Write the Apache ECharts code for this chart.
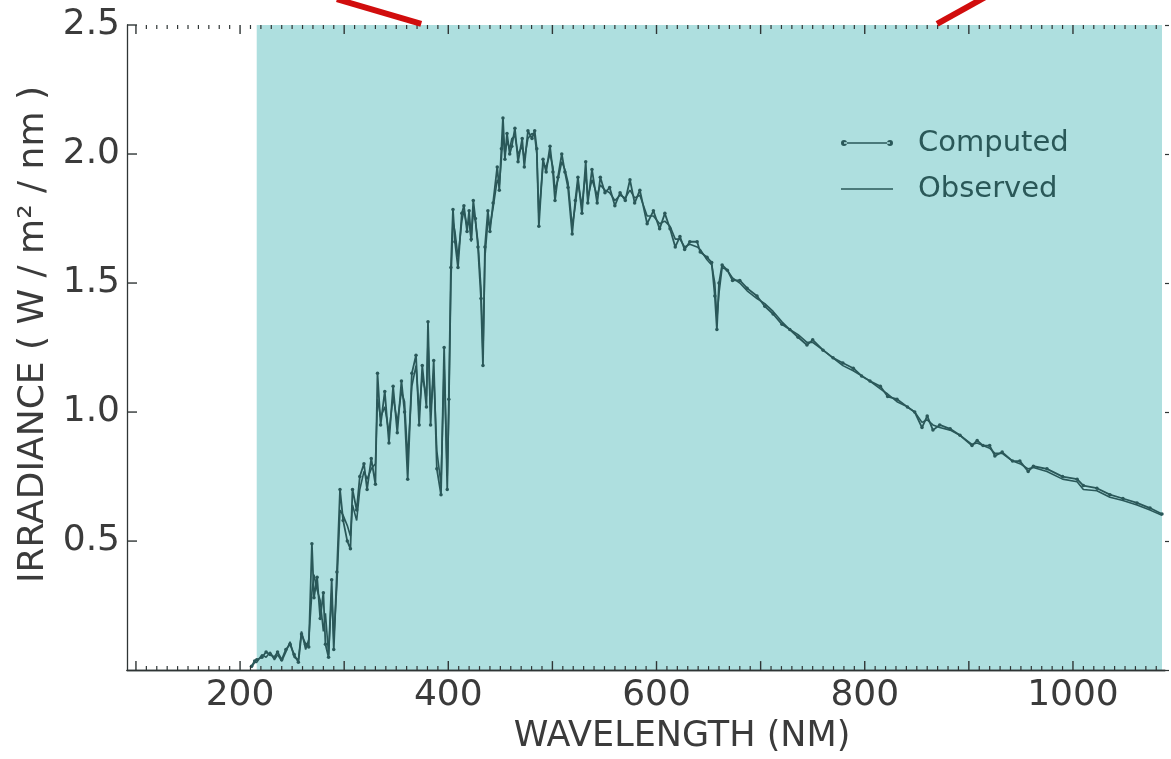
<!DOCTYPE html>
<html>
<head>
<meta charset="utf-8">
<script src="https://cdn.jsdelivr.net/npm/echarts@6/dist/echarts.min.js"></script>
<style>
  html, body { margin: 0; padding: 0; background: #ffffff; }
  #chart { width: 1171px; height: 759px; }
</style>
</head>
<body>
<div id="chart"></div>
<script>
// Solar spectral irradiance, wavelength in nm, irradiance in W / m^2 / nm
const wavelength = [
  211, 214, 216, 221, 225, 229, 233, 236, 240, 244, 248, 252, 256, 259, 263, 266, 269, 271, 274, 277,
  280, 282, 285, 288, 290, 293, 296, 299, 303, 306, 308, 312, 315, 319, 322, 326, 330, 332, 335, 339,
  343, 347, 351, 355, 358, 361, 365, 369, 372, 375, 379, 380.5, 383, 386, 389, 393, 396, 399, 400.5, 402.5,
  404.5, 406.4, 409.3, 413, 415, 418, 420, 422, 424, 426, 428.5, 431.4, 433.3, 435.2, 438, 440, 443, 447, 449, 451,
  452.5, 454.4, 456.4, 459, 461, 464, 467, 471, 473, 476.5, 480.4, 483, 485, 487, 491, 494, 497.7, 500.5, 502.5, 505.3,
  509, 512, 515, 519, 522, 524.5, 528.4, 532, 534, 538, 543, 546, 550.5, 555, 560, 565, 570, 574.5, 579, 584,
  591, 597, 603, 608, 613, 618, 622.5, 627, 632, 639, 642, 648.5, 653, 656, 658, 660, 663, 668, 673, 680,
  687, 696.5, 704, 712, 720.5, 728, 736, 744.5, 750, 760, 769.5, 779, 789, 797, 805, 815, 822, 831, 841, 848,
  855, 860, 865.5, 872, 882, 891.5, 903, 908, 913.6, 920, 925, 932, 942, 949, 957, 962, 975, 990, 1004, 1010,
  1023, 1035.5, 1048, 1061.5, 1074, 1085.5
];
const computed = [
  0.015, 0.035, 0.04, 0.05, 0.07, 0.06, 0.05, 0.07, 0.04, 0.08, 0.10, 0.06, 0.03, 0.14, 0.10, 0.09, 0.49, 0.28, 0.36, 0.20,
  0.30, 0.10, 0.05, 0.35, 0.08, 0.38, 0.70, 0.58, 0.50, 0.47, 0.70, 0.62, 0.75, 0.80, 0.70, 0.82, 0.72, 1.15, 0.95, 1.08,
  0.88, 1.10, 0.92, 1.12, 1.00, 0.74, 1.15, 1.22, 0.95, 1.18, 1.02, 1.35, 0.95, 1.20, 0.78, 0.68, 1.25, 0.70, 1.05, 1.56,
  1.785, 1.66, 1.56, 1.77, 1.80, 1.70, 1.78, 1.67, 1.82, 1.75, 1.64, 1.44, 1.18, 1.64, 1.78, 1.70, 1.81, 1.95, 1.86, 2.02,
  2.14, 1.98, 2.08, 2.00, 2.03, 2.10, 1.97, 2.06, 1.95, 2.09, 2.06, 2.09, 2.02, 1.72, 1.98, 1.93, 2.03, 1.93, 1.82, 1.91,
  2.00, 1.93, 1.87, 1.69, 1.82, 1.91, 1.77, 1.97, 1.81, 1.94, 1.81, 1.91, 1.85, 1.87, 1.80, 1.85, 1.82, 1.90, 1.81, 1.86,
  1.73, 1.78, 1.71, 1.77, 1.71, 1.64, 1.68, 1.63, 1.66, 1.66, 1.62, 1.60, 1.58, 1.45, 1.32, 1.50, 1.57, 1.55, 1.51, 1.51,
  1.48, 1.45, 1.41, 1.38, 1.34, 1.32, 1.29, 1.26, 1.28, 1.24, 1.21, 1.19, 1.17, 1.14, 1.12, 1.10, 1.06, 1.05, 1.02, 1.00,
  0.94, 0.985, 0.93, 0.95, 0.935, 0.91, 0.87, 0.89, 0.87, 0.87, 0.83, 0.845, 0.81, 0.81, 0.77, 0.79, 0.78, 0.75, 0.74, 0.715,
  0.705, 0.68, 0.665, 0.648, 0.628, 0.605
];
const observed = [
  0.01, 0.03, 0.03, 0.06, 0.05, 0.07, 0.04, 0.06, 0.035, 0.07, 0.11, 0.05, 0.04, 0.15, 0.08, 0.12, 0.30, 0.37, 0.31, 0.27,
  0.15, 0.22, 0.06, 0.30, 0.12, 0.33, 0.62, 0.60, 0.56, 0.52, 0.64, 0.58, 0.70, 0.77, 0.74, 0.78, 0.80, 1.05, 0.98, 1.02,
  0.92, 1.06, 0.96, 1.08, 1.04, 0.82, 1.10, 1.18, 1.00, 1.14, 1.06, 1.28, 1.00, 1.15, 0.85, 0.72, 1.18, 0.75, 1.00, 1.50,
  1.74, 1.70, 1.60, 1.74, 1.78, 1.72, 1.74, 1.66, 1.78, 1.74, 1.66, 1.48, 1.22, 1.60, 1.74, 1.72, 1.79, 1.90, 1.88, 1.98,
  2.08, 2.00, 2.05, 2.02, 2.06, 2.07, 2.00, 2.03, 1.98, 2.06, 2.08, 2.07, 2.00, 1.76, 1.96, 1.95, 2.00, 1.95, 1.86, 1.90,
  1.97, 1.94, 1.89, 1.72, 1.80, 1.89, 1.80, 1.93, 1.83, 1.90, 1.84, 1.88, 1.86, 1.85, 1.82, 1.84, 1.83, 1.86, 1.83, 1.84,
  1.76, 1.76, 1.73, 1.74, 1.72, 1.67, 1.67, 1.64, 1.65, 1.64, 1.63, 1.59, 1.57, 1.50, 1.36, 1.46, 1.56, 1.55, 1.52, 1.50,
  1.47, 1.44, 1.42, 1.39, 1.35, 1.32, 1.30, 1.27, 1.27, 1.24, 1.21, 1.18, 1.16, 1.14, 1.12, 1.09, 1.07, 1.04, 1.02, 1.00,
  0.96, 0.97, 0.95, 0.94, 0.93, 0.91, 0.875, 0.88, 0.87, 0.86, 0.84, 0.84, 0.81, 0.80, 0.78, 0.785, 0.77, 0.74, 0.73, 0.70,
  0.695, 0.67, 0.657, 0.64, 0.62, 0.60
];

// Axis ticks and labels
const xLabelValues = [200, 400, 600, 800, 1000];
const xMajorTicks = [100, 200, 300, 400, 500, 600, 700, 800, 900, 1000];
const yLabelValues = [0.5, 1.0, 1.5, 2.0, 2.5];
const xRange = [91.4, 1088.4];
const yRange = [0, 2.5];

// Shaded band of the spectrum panel (nm)
const bandRange = [216, 1085.5];

// Red pointer strokes above the frame, in axis units
const pointerLines = [
  [[293, 2.60], [374, 2.504]],
  [[869.5, 2.504], [921, 2.62]]
];

const xMinorTicks = [];
for (let v = 100; v <= 1080; v += 10) if (v % 100 !== 0) xMinorTicks.push(v);

const FONT = 'DejaVu Sans';
const INK = '#3b3b3b';
const TEAL = '#2a5859';
const FRAME = '#2f3535';

const computedIcon = 'path://M3,2.3H49V3.7H3Z M0,3A3,3 0 1,0 6,3A3,3 0 1,0 0,3Z M46,3A3,3 0 1,0 52,3A3,3 0 1,0 46,3Z';
const observedIcon = 'path://M0,0H52V1.4H0Z';

const chart = echarts.init(document.getElementById('chart'), null, { renderer: 'canvas' });

// Inward frame ticks on the bottom and top edges, drawn above the shaded band
function xFrameTicks(values, len, width) {
  return {
    type: 'custom', z: 12, silent: true, clip: false,
    data: values.map(v => [v, yRange[0]]),
    encode: { x: 0, y: 1 },
    renderItem: (params, api) => {
      const bottom = api.coord([api.value(0), yRange[0]]);
      const top = api.coord([api.value(0), yRange[1]]);
      const style = { stroke: FRAME, lineWidth: width };
      return {
        type: 'group',
        children: [
          { type: 'line', shape: { x1: bottom[0], y1: bottom[1], x2: bottom[0], y2: bottom[1] - len }, style },
          { type: 'line', shape: { x1: top[0], y1: top[1], x2: top[0], y2: top[1] + len }, style }
        ]
      };
    }
  };
}

// Inward ticks on the left edge
function yFrameTicks(values, len, width) {
  return {
    type: 'custom', z: 12, silent: true, clip: false,
    data: values.map(v => [xRange[0], v]),
    encode: { x: 0, y: 1 },
    renderItem: (params, api) => {
      const p = api.coord([xRange[0], api.value(1)]);
      return {
        type: 'line',
        shape: { x1: p[0], y1: p[1], x2: p[0] + len, y2: p[1] },
        style: { stroke: FRAME, lineWidth: width }
      };
    }
  };
}

const option = {
  animation: false,
  backgroundColor: '#ffffff',
  grid: { left: 127, top: 25, right: 6, bottom: 87 },
  legend: {
    orient: 'vertical', left: 836, top: 123, itemGap: 16,
    itemWidth: 52, itemHeight: 6,
    data: [
      { name: 'Computed', icon: computedIcon },
      { name: 'Observed', icon: observedIcon }
    ],
    textStyle: { fontFamily: FONT, fontSize: 29, lineHeight: 30, color: '#2a5858', padding: [0, 0, 0, 20] }
  },
  xAxis: [
    {
      type: 'value', position: 'bottom', min: xRange[0], max: xRange[1], z: 10,
      splitLine: { show: false },
      axisLine: { show: true, lineStyle: { color: FRAME, width: 1.3 } },
      axisTick: { show: false },
      axisLabel: {
        show: true, customValues: xLabelValues, margin: 8, fontFamily: FONT, fontSize: 36, color: INK,
        formatter: v => String(v)
      },
      name: 'WAVELENGTH (NM)', nameLocation: 'middle', nameGap: 47,
      nameTextStyle: { fontFamily: FONT, fontSize: 35, color: INK, padding: [0, 0, 0, 72] }
    },
    {
      type: 'value', position: 'top', min: xRange[0], max: xRange[1], z: 10,
      splitLine: { show: false },
      axisLine: { show: true, lineStyle: { color: FRAME, width: 1.3 } },
      axisTick: { show: false },
      axisLabel: { show: false }
    }
  ],
  yAxis: [
    {
      type: 'value', position: 'left', min: yRange[0], max: yRange[1], interval: 0.5, z: 10,
      splitLine: { show: false },
      axisLine: { show: true, lineStyle: { color: FRAME, width: 1.3 } },
      axisTick: { show: false },
      axisLabel: {
        customValues: yLabelValues, margin: 7, fontFamily: FONT, fontSize: 36, color: INK,
        formatter: v => v.toFixed(1)
      },
      name: 'IRRADIANCE ( W / m² / nm )', nameLocation: 'middle', nameGap: 72,
      nameTextStyle: { fontFamily: FONT, fontSize: 36, color: INK, padding: [0, 0, 0, 26] }
    },
    {
      type: 'value', position: 'right', min: yRange[0], max: yRange[1], interval: 0.5, z: 10,
      splitLine: { show: false },
      axisLine: { show: false },
      axisTick: { show: true, inside: false, length: 4, lineStyle: { color: FRAME, width: 1.2 } },
      axisLabel: { show: false }
    }
  ],
  series: [
    {
      name: 'band', type: 'custom', z: 0, silent: true,
      data: [[bandRange[0], bandRange[1]]],
      encode: { x: [0, 1] },
      renderItem: (params, api) => {
        const topLeft = api.coord([api.value(0), yRange[1]]);
        const bottomRight = api.coord([api.value(1), yRange[0]]);
        return {
          type: 'rect',
          shape: {
            x: topLeft[0], y: topLeft[1],
            width: bottomRight[0] - topLeft[0], height: bottomRight[1] - topLeft[1]
          },
          style: { fill: '#aedfdf' }
        };
      }
    },
    Object.assign({ name: 'majorTicks' }, xFrameTicks(xMajorTicks, 9, 1.4)),
    Object.assign({ name: 'minorTicks' }, xFrameTicks(xMinorTicks, 4, 1.2)),
    Object.assign({ name: 'yTicks' }, yFrameTicks(yLabelValues, 10, 1.4)),
    {
      name: 'Observed', type: 'line', z: 3,
      data: wavelength.map((w, i) => [w, observed[i]]),
      showSymbol: false, symbol: 'none',
      lineStyle: { color: TEAL, width: 1.6 }, itemStyle: { color: TEAL }
    },
    {
      name: 'Computed', type: 'line', z: 4,
      data: wavelength.map((w, i) => [w, computed[i]]),
      symbol: 'circle', symbolSize: 3.5, showAllSymbol: true,
      lineStyle: { color: TEAL, width: 1.8 }, itemStyle: { color: TEAL }
    }
  ]
};

chart.setOption(option);

// Red pointer strokes, placed through the grid's coordinate system
const strokes = pointerLines.map(seg => {
  const a = chart.convertToPixel({ gridIndex: 0 }, seg[0]);
  const b = chart.convertToPixel({ gridIndex: 0 }, seg[1]);
  return {
    type: 'line', z: 20, silent: true,
    shape: { x1: a[0], y1: a[1], x2: b[0], y2: b[1] },
    style: { stroke: '#d10d0d', lineWidth: 6 }
  };
});
chart.setOption({ graphic: strokes });
</script>
</body>
</html>
